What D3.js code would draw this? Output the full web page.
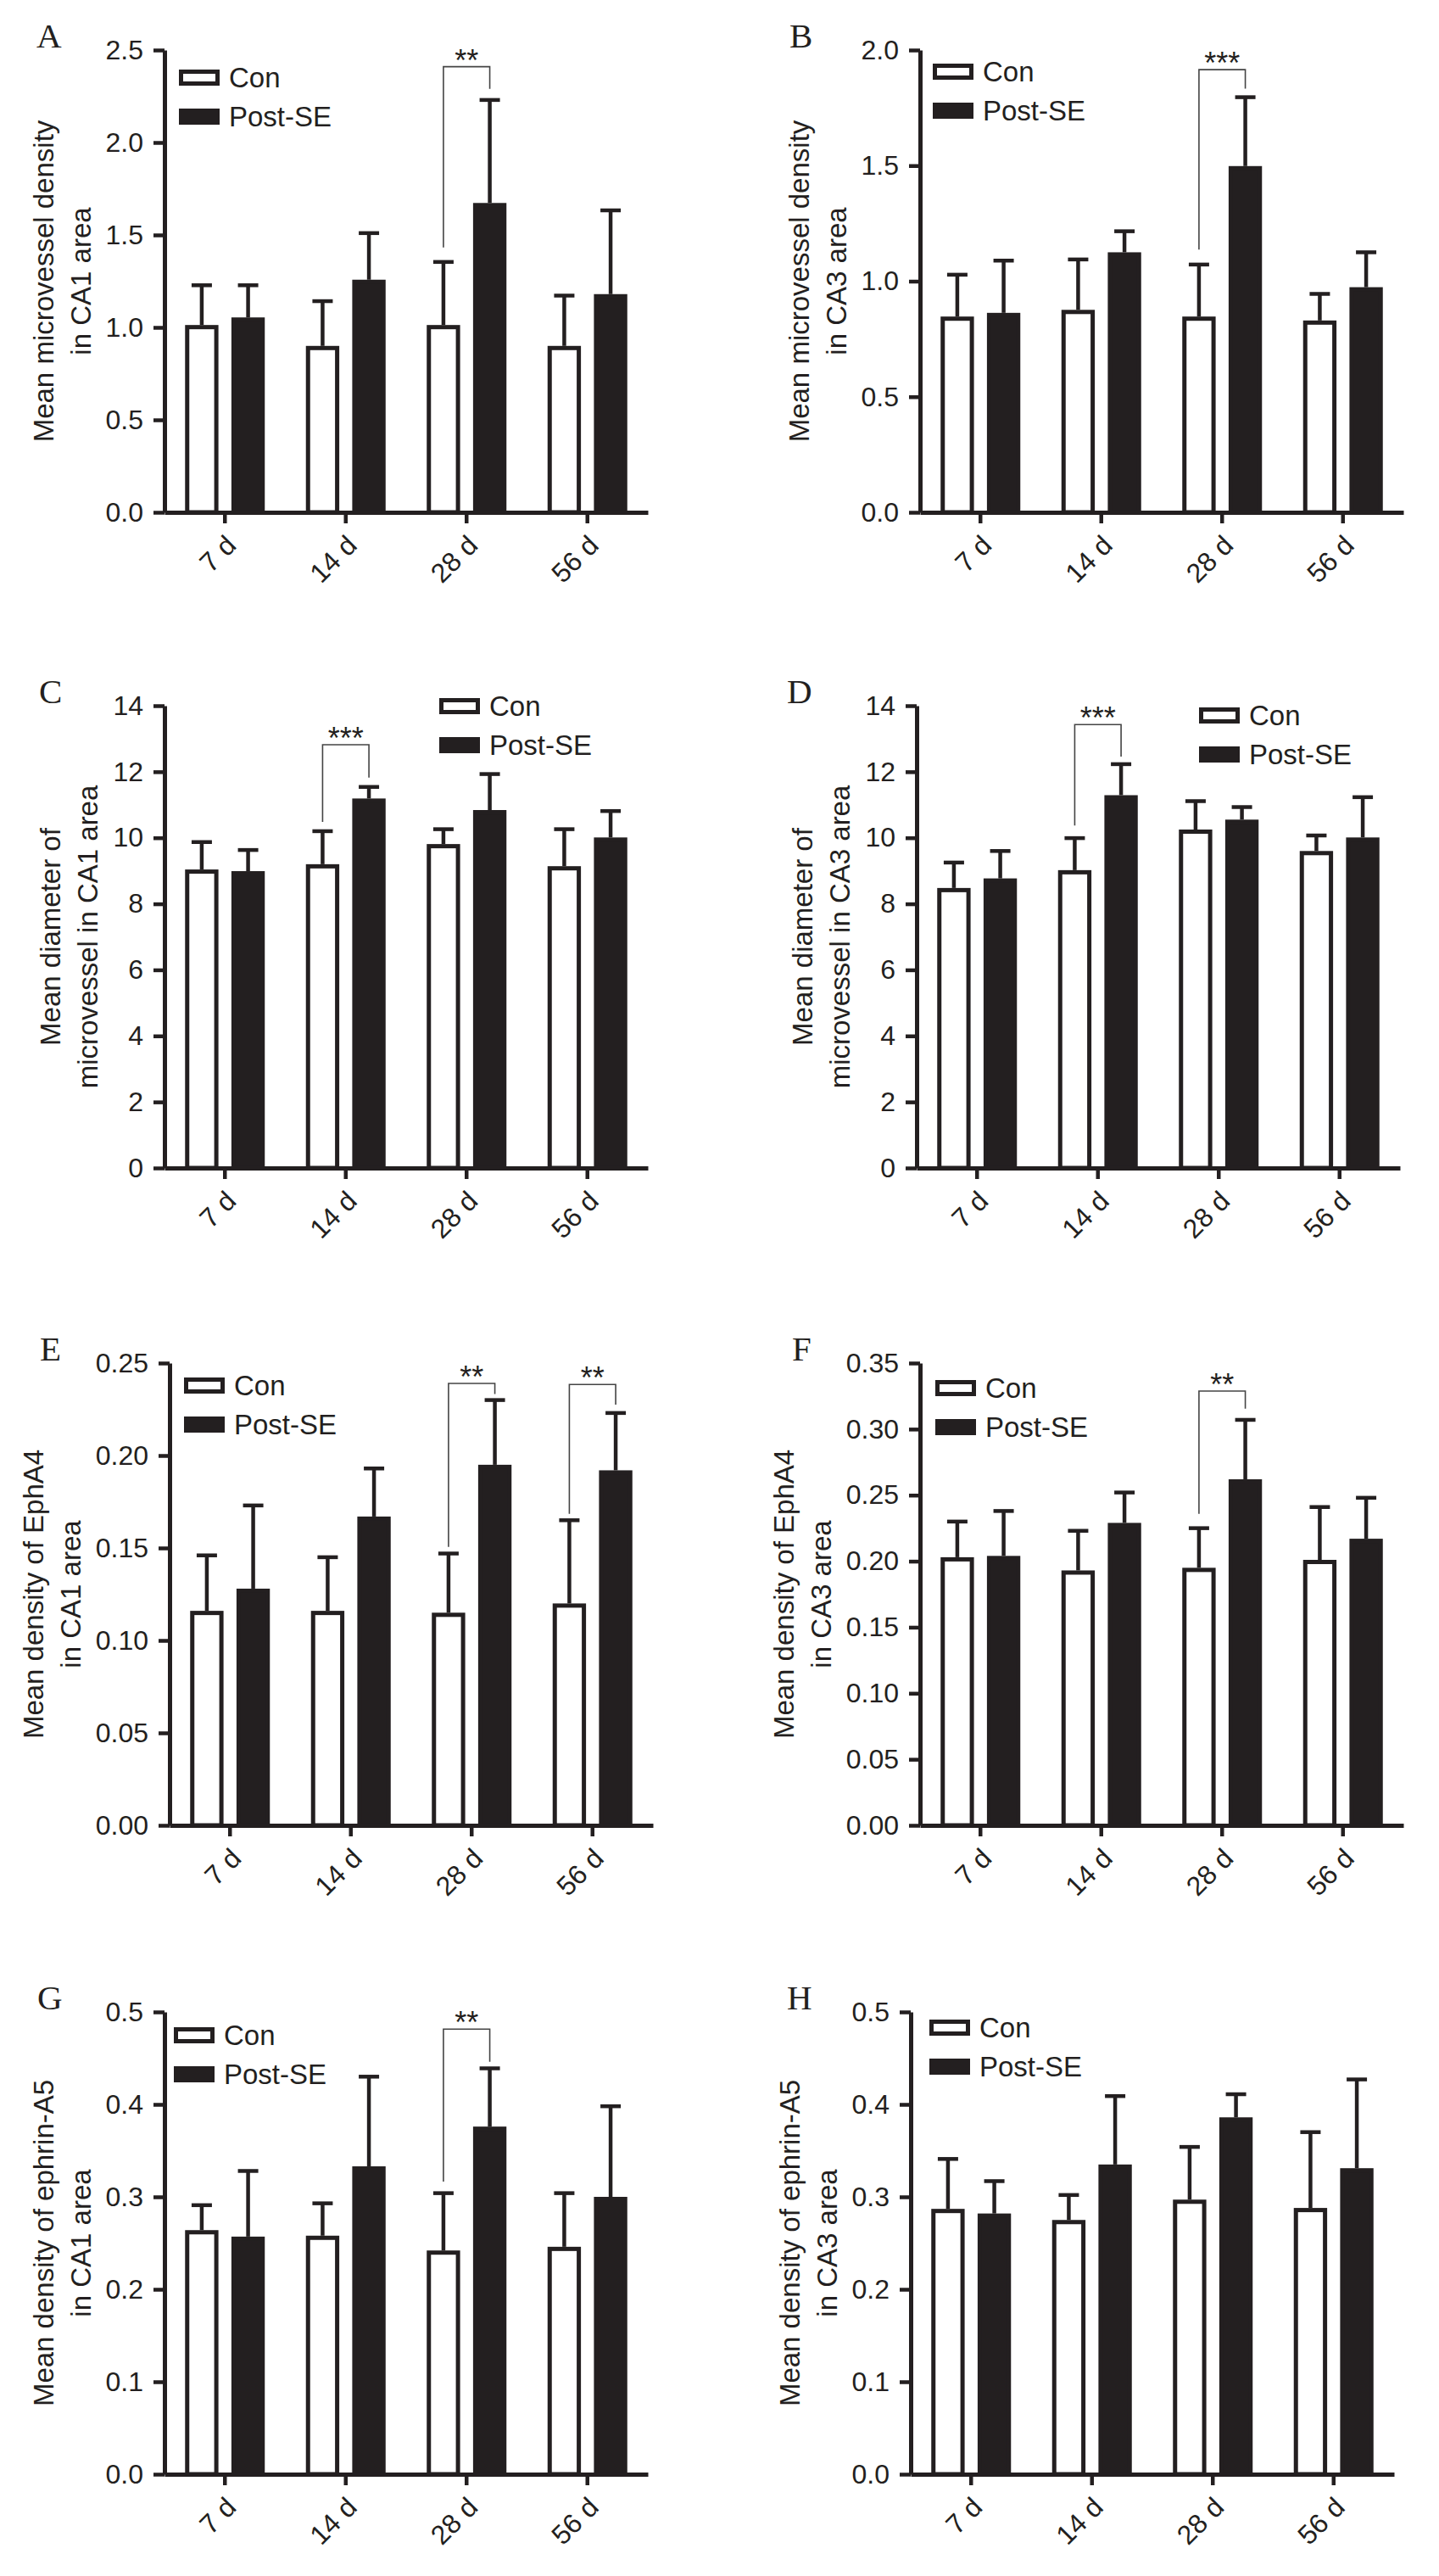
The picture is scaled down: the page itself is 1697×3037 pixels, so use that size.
<!DOCTYPE html>
<html>
<head>
<meta charset="utf-8">
<script src="https://cdn.jsdelivr.net/npm/d3@7/dist/d3.min.js"></script>
<style>
  body { margin: 0; background: #fff; }
  svg text { font-family: "Liberation Sans", Arial, sans-serif; fill: #231f20; }
  svg text.letter { font-family: "Liberation Serif", "Times New Roman", serif; }
</style>
</head>
<body>
<div id="fig"></div>
<script>
// Shared categories
const days = ["7 d", "14 d", "28 d", "56 d"];
const groups = ["Con", "Post-SE"];

// A: microvessel density, CA1
const conA = [1.013, 0.90, 1.013, 0.90];
const conSdA = [0.215, 0.242, 0.341, 0.272];
const postA = [1.054, 1.258, 1.673, 1.18];
const postSdA = [0.174, 0.252, 0.557, 0.453];
const ticksA = [0, 0.5, 1.0, 1.5, 2.0, 2.5];

// B: microvessel density, CA3
const conB = [0.847, 0.876, 0.847, 0.83];
const conSdB = [0.181, 0.218, 0.225, 0.115];
const postB = [0.863, 1.125, 1.498, 0.974];
const postSdB = [0.226, 0.091, 0.298, 0.151];
const ticksB = [0, 0.5, 1.0, 1.5, 2.0];

// C: microvessel diameter, CA1
const conC = [9.04, 9.2, 9.81, 9.14];
const conSdC = [0.83, 1.0, 0.45, 1.12];
const postC = [8.99, 11.19, 10.84, 10.01];
const postSdC = [0.64, 0.35, 1.09, 0.80];
const ticksC = [0, 2, 4, 6, 8, 10, 12, 14];

// D: microvessel diameter, CA3
const conD = [8.48, 9.02, 10.25, 9.6];
const conSdD = [0.77, 0.97, 0.86, 0.47];
const postD = [8.77, 11.29, 10.55, 10.01];
const postSdD = [0.83, 0.94, 0.38, 1.22];
const ticksD = [0, 2, 4, 6, 8, 10, 12, 14];

// E: EphA4, CA1
const conE = [0.116, 0.116, 0.115, 0.12];
const conSdE = [0.030, 0.029, 0.032, 0.045];
const postE = [0.128, 0.167, 0.195, 0.192];
const postSdE = [0.045, 0.026, 0.035, 0.031];
const ticksE = [0, 0.05, 0.10, 0.15, 0.20, 0.25];

// F: EphA4, CA3
const conF = [0.203, 0.193, 0.195, 0.201];
const conSdF = [0.027, 0.030, 0.030, 0.040];
const postF = [0.204, 0.229, 0.262, 0.217];
const postSdF = [0.034, 0.023, 0.045, 0.031];
const ticksF = [0, 0.05, 0.10, 0.15, 0.20, 0.25, 0.30, 0.35];

// G: ephrin-A5, CA1
const conG = [0.264, 0.258, 0.242, 0.246];
const conSdG = [0.027, 0.035, 0.062, 0.058];
const postG = [0.257, 0.333, 0.376, 0.300];
const postSdG = [0.071, 0.097, 0.063, 0.098];
const ticksG = [0, 0.1, 0.2, 0.3, 0.4, 0.5];

// H: ephrin-A5, CA3
const conH = [0.287, 0.275, 0.297, 0.288];
const conSdH = [0.054, 0.027, 0.057, 0.082];
const postH = [0.282, 0.335, 0.386, 0.331];
const postSdH = [0.035, 0.074, 0.025, 0.096];
const ticksH = [0, 0.1, 0.2, 0.3, 0.4, 0.5];

// Significance brackets: day, bracket top, left/right leg ends (data units), stars
const sigA = [{ day: "28 d", top: 2.41, left: 1.432, right: 2.29, text: "**" }];
const sigB = [{ day: "28 d", top: 1.915, left: 1.137, right: 1.833, text: "***" }];
const sigC = [{ day: "14 d", top: 12.82, left: 10.48, right: 11.82, text: "***" }];
const sigD = [{ day: "14 d", top: 13.43, left: 10.37, right: 12.46, text: "***" }];
const sigE = [{ day: "28 d", top: 0.239, left: 0.1506, right: 0.2332, text: "**" },
              { day: "56 d", top: 0.2384, left: 0.1685, right: 0.2275, text: "**" }];
const sigF = [{ day: "28 d", top: 0.3288, left: 0.2359, right: 0.3155, text: "**" }];
const sigG = [{ day: "28 d", top: 0.4814, left: 0.3164, right: 0.446, text: "**" }];
const sigH = [];

// Panel table (layout kept apart from the values)
const panels = [
  { id: "A", con: conA, conSd: conSdA, post: postA, postSd: postSdA, ticks: ticksA, fmt: ".1f", sig: sigA,
    title: ["Mean microvessel density", "in CA1 area"], x0: 194, top: 59, lx: 17, ly: 23, letterX: 43 },
  { id: "B", con: conB, conSd: conSdB, post: postB, postSd: postSdB, ticks: ticksB, fmt: ".1f", sig: sigB,
    title: ["Mean microvessel density", "in CA3 area"], x0: 1085, top: 59, lx: 15, ly: 16, letterX: 931 },
  { id: "C", con: conC, conSd: conSdC, post: postC, postSd: postSdC, ticks: ticksC, fmt: "d", sig: sigC,
    title: ["Mean diameter of", "microvessel in CA1 area"], x0: 194, top: 832, lx: 324, ly: -9, letterX: 46 },
  { id: "D", con: conD, conSd: conSdD, post: postD, postSd: postSdD, ticks: ticksD, fmt: "d", sig: sigD,
    title: ["Mean diameter of", "microvessel in CA3 area"], x0: 1081, top: 832, lx: 333, ly: 2, letterX: 928 },
  { id: "E", con: conE, conSd: conSdE, post: postE, postSd: postSdE, ticks: ticksE, fmt: ".2f", sig: sigE,
    title: ["Mean density of EphA4", "in CA1 area"], x0: 200, top: 1607, lx: 17, ly: 17, letterX: 47 },
  { id: "F", con: conF, conSd: conSdF, post: postF, postSd: postSdF, ticks: ticksF, fmt: ".2f", sig: sigF,
    title: ["Mean density of EphA4", "in CA3 area"], x0: 1085, top: 1607, lx: 18, ly: 20, letterX: 934 },
  { id: "G", con: conG, conSd: conSdG, post: postG, postSd: postSdG, ticks: ticksG, fmt: ".1f", sig: sigG,
    title: ["Mean density of ephrin-A5", "in CA1 area"], x0: 194, top: 2372, lx: 11, ly: 18, letterX: 44 },
  { id: "H", con: conH, conSd: conSdH, post: postH, postSd: postSdH, ticks: ticksH, fmt: ".1f", sig: sigH,
    title: ["Mean density of ephrin-A5", "in CA3 area"], x0: 1074, top: 2372, lx: 22, ly: 9, letterX: 928 }
];

const width = 1697, height = 3037;
const plotW = 570, plotH = 545;
const ink = "#231f20";
const sw = 5;      // bar / axis / legend outline
const ew = 4.5;    // error bars and ticks

const svg = d3.select("#fig").append("svg")
  .attr("width", width)
  .attr("height", height);

svg.append("rect").attr("width", width).attr("height", height).attr("fill", "#fff");

panels.forEach(p => {
  const g = svg.append("g").attr("id", "panel-" + p.id);
  const bottom = p.top + plotH;

  const x = d3.scaleBand().domain(days).range([p.x0, p.x0 + plotW]);
  const sub = d3.scaleBand().domain(groups).range([-47, 47]).paddingInner(0.28);
  const y = d3.scaleLinear().domain([0, p.ticks[p.ticks.length - 1]]).range([bottom, p.top]);
  const center = d => x(d) + x.bandwidth() / 2;
  const bw = sub.bandwidth();

  const rows = [];
  days.forEach((d, i) => {
    rows.push({ day: d, key: "Con", mean: p.con[i], sd: p.conSd[i] });
    rows.push({ day: d, key: "Post-SE", mean: p.post[i], sd: p.postSd[i] });
  });
  const barMid = r => center(r.day) + sub(r.key) + bw / 2;

  // error bars (upper only)
  const eb = g.append("g");
  eb.selectAll("line.stem").data(rows).join("line")
    .attr("class", "stem")
    .attr("x1", barMid).attr("x2", barMid)
    .attr("y1", r => y(r.mean)).attr("y2", r => y(r.mean + r.sd))
    .attr("stroke", ink).attr("stroke-width", ew);
  eb.selectAll("line.cap").data(rows).join("line")
    .attr("class", "cap")
    .attr("x1", r => barMid(r) - 12).attr("x2", r => barMid(r) + 12)
    .attr("y1", r => y(r.mean + r.sd)).attr("y2", r => y(r.mean + r.sd))
    .attr("stroke", ink).attr("stroke-width", ew);

  // bars
  g.append("g").selectAll("rect").data(rows).join("rect")
    .attr("x", r => center(r.day) + sub(r.key) + sw / 2)
    .attr("width", bw - sw)
    .attr("y", r => y(r.mean) + sw / 2)
    .attr("height", r => y(0) - y(r.mean) - sw / 2)
    .attr("fill", r => r.key === "Con" ? "#fff" : ink)
    .attr("stroke", ink)
    .attr("stroke-width", sw);

  // significance brackets
  p.sig.forEach(s => {
    const xl = center(s.day) + sub("Con") + bw / 2;
    const xr = center(s.day) + sub("Post-SE") + bw / 2;
    g.append("path")
      .attr("d", `M${xl},${y(s.left)}V${y(s.top)}H${xr}V${y(s.right)}`)
      .attr("fill", "none")
      .attr("stroke", "#444")
      .attr("stroke-width", 1.6);
    g.append("text")
      .attr("x", (xl + xr) / 2)
      .attr("y", y(s.top) + 5)
      .attr("text-anchor", "middle")
      .style("font-size", "36px")
      .text(s.text);
  });

  // axes
  const yAxis = g.append("g")
    .attr("transform", `translate(${p.x0},0)`)
    .call(d3.axisLeft(y).tickValues(p.ticks).tickFormat(d3.format(p.fmt))
      .tickSize(13).tickPadding(12).tickSizeOuter(0));

  const xAxis = g.append("g")
    .attr("transform", `translate(0,${bottom})`)
    .call(d3.axisBottom(x).tickSize(13).tickSizeOuter(0));

  [yAxis, xAxis].forEach(a => {
    a.select(".domain").attr("stroke", ink).attr("stroke-width", sw);
    a.selectAll(".tick line").attr("stroke", ink).attr("stroke-width", ew);
    a.selectAll(".tick text").style("font-size", "32px").attr("fill", ink);
  });

  xAxis.selectAll(".tick text")
    .attr("x", 0).attr("y", 0).attr("dy", 0)
    .attr("text-anchor", "end")
    .attr("transform", "translate(15,41) rotate(-45)");

  // y title, two lines, placed beside the widest tick label
  const minX = d3.min(yAxis.selectAll(".tick text").nodes(), n => p.x0 + n.getBBox().x);
  const line2 = minX - 28 + 10;
  const cy = (p.top + bottom) / 2;
  p.title.forEach((t, i) => {
    const bx = line2 - (1 - i) * 44;
    g.append("text")
      .attr("transform", `translate(${bx},${cy}) rotate(-90)`)
      .attr("text-anchor", "middle")
      .style("font-size", "33px")
      .text(t);
  });

  // legend
  const leg = g.append("g").attr("transform", `translate(${p.x0 + p.lx},${p.top + p.ly})`);
  groups.forEach((k, i) => {
    leg.append("rect")
      .attr("x", sw / 2).attr("y", i * 46 + sw / 2)
      .attr("width", 48 - sw).attr("height", 19 - sw)
      .attr("fill", k === "Con" ? "#fff" : ink)
      .attr("stroke", ink).attr("stroke-width", sw);
    leg.append("text")
      .attr("x", 59).attr("y", i * 46 + 9.5 + 11.5)
      .style("font-size", "33px")
      .text(k);
  });

  // panel letter
  g.append("text")
    .attr("class", "letter")
    .attr("x", p.letterX).attr("y", p.top - 3)
    .style("font-size", "41px")
    .text(p.id);
});
</script>
</body>
</html>
